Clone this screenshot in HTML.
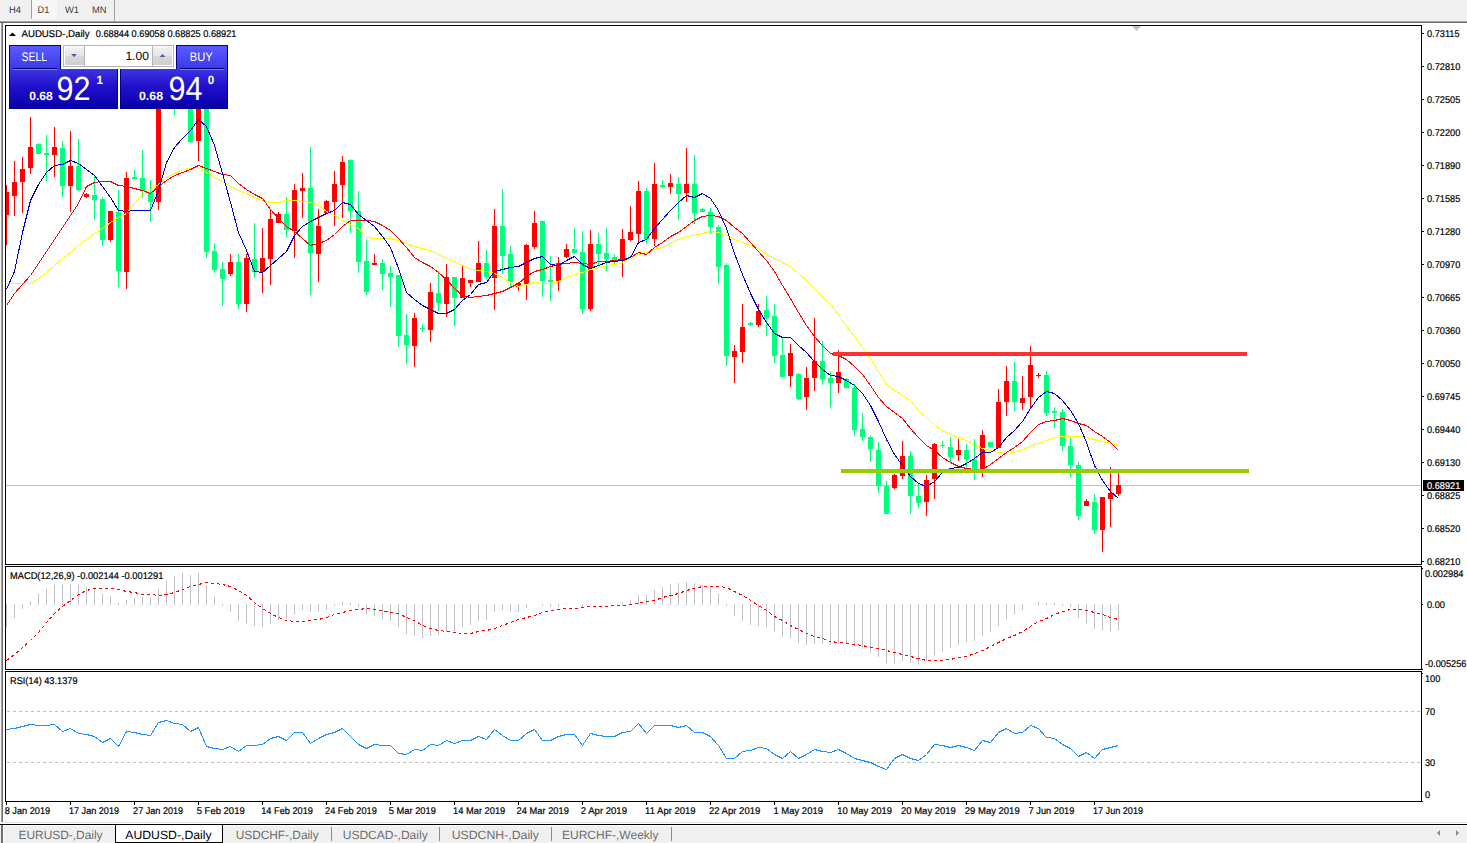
<!DOCTYPE html><html><head><meta charset="utf-8"><title>AUDUSD-,Daily</title>
<style>html,body{margin:0;padding:0;background:#fff;overflow:hidden;}svg{display:block;}text{font-family:"Liberation Sans",sans-serif;text-rendering:geometricPrecision;}</style></head><body>
<svg width="1467" height="843" viewBox="0 0 1467 843" shape-rendering="crispEdges">
<defs><linearGradient id="gTab" x1="0" y1="0" x2="0" y2="1"><stop offset="0" stop-color="#5b5bff"/><stop offset="1" stop-color="#3c38e6"/></linearGradient><linearGradient id="gLow" x1="0" y1="0" x2="0" y2="1"><stop offset="0" stop-color="#3d34e2"/><stop offset="0.45" stop-color="#2010cc"/><stop offset="1" stop-color="#0800aa"/></linearGradient><linearGradient id="gBtn" x1="0" y1="0" x2="0" y2="1"><stop offset="0" stop-color="#f2f2f2"/><stop offset="0.5" stop-color="#e4e4e4"/><stop offset="0.52" stop-color="#d8d8d8"/><stop offset="1" stop-color="#cfcfcf"/></linearGradient><clipPath id="cMain"><rect x="6" y="26" width="1415" height="538"/></clipPath><clipPath id="cMacd"><rect x="6" y="567" width="1415" height="102"/></clipPath><clipPath id="cRsi"><rect x="6" y="672" width="1415" height="129"/></clipPath></defs>
<rect x="0" y="0" width="1467" height="843" fill="#ffffff"/>
<rect x="0" y="0" width="1467" height="20" fill="#f0f0f0"/>
<rect x="0" y="20" width="1467" height="1" fill="#f4f4f4"/>
<rect x="0" y="21" width="1467" height="1" fill="#a0a0a0"/>
<rect x="0" y="22" width="1467" height="1" fill="#6e6e6e"/>
<rect x="32" y="0" width="25" height="19" fill="#f7f7f7"/>
<rect x="31" y="0" width="1" height="19" fill="#a0a0a0"/>
<rect x="114" y="0" width="1" height="21" fill="#a0a0a0"/>
<g fill="#3c3c3c" font-size="9.6" font-family="Liberation Sans, sans-serif">
<text x="9" y="13" textLength="12" lengthAdjust="spacingAndGlyphs">H4</text>
<text x="37.5" y="13" textLength="11.8" lengthAdjust="spacingAndGlyphs">D1</text>
<text x="65" y="13" textLength="14" lengthAdjust="spacingAndGlyphs">W1</text>
<text x="92" y="13" textLength="14.5" lengthAdjust="spacingAndGlyphs">MN</text>
</g>
<rect x="0" y="23" width="1" height="799" fill="#f8f8f8"/>
<rect x="1" y="23" width="1" height="799" fill="#a0a0a0"/>
<rect x="2" y="23" width="1" height="799" fill="#6e6e6e"/>
<g clip-path="url(#cMain)">
<rect x="6" y="485" width="1415" height="1" fill="#c0c0c0"/>
<rect x="6" y="185" width="1" height="60" fill="#ff0000"/>
<rect x="4" y="192" width="5" height="23" fill="#ff0000"/>
<rect x="14" y="161" width="1" height="55" fill="#ff0000"/>
<rect x="12" y="182" width="5" height="14" fill="#ff0000"/>
<rect x="22" y="157" width="1" height="56" fill="#ff0000"/>
<rect x="20" y="169" width="5" height="13" fill="#ff0000"/>
<rect x="30" y="117" width="1" height="57" fill="#ff0000"/>
<rect x="28" y="147" width="5" height="21" fill="#ff0000"/>
<rect x="38" y="143" width="1" height="11" fill="#00ff7f"/>
<rect x="36" y="144" width="5" height="10" fill="#00ff7f"/>
<rect x="46" y="135" width="1" height="46" fill="#00ff7f"/>
<rect x="44" y="153" width="5" height="2" fill="#00ff7f"/>
<rect x="54" y="127" width="1" height="50" fill="#ff0000"/>
<rect x="52" y="147" width="5" height="8" fill="#ff0000"/>
<rect x="62" y="141" width="1" height="56" fill="#00ff7f"/>
<rect x="60" y="148" width="5" height="38" fill="#00ff7f"/>
<rect x="70" y="131" width="1" height="81" fill="#ff0000"/>
<rect x="68" y="166" width="5" height="20" fill="#ff0000"/>
<rect x="78" y="139" width="1" height="52" fill="#00ff7f"/>
<rect x="76" y="166" width="5" height="24" fill="#00ff7f"/>
<rect x="86" y="193" width="1" height="5" fill="#ff0000"/>
<rect x="84" y="194" width="5" height="3" fill="#ff0000"/>
<rect x="94" y="175" width="1" height="45" fill="#00ff7f"/>
<rect x="92" y="195" width="5" height="5" fill="#00ff7f"/>
<rect x="102" y="197" width="1" height="49" fill="#00ff7f"/>
<rect x="100" y="199" width="5" height="41" fill="#00ff7f"/>
<rect x="110" y="211" width="1" height="31" fill="#ff0000"/>
<rect x="108" y="211" width="5" height="29" fill="#ff0000"/>
<rect x="118" y="190" width="1" height="97" fill="#00ff7f"/>
<rect x="116" y="212" width="5" height="59" fill="#00ff7f"/>
<rect x="126" y="172" width="1" height="117" fill="#ff0000"/>
<rect x="124" y="178" width="5" height="94" fill="#ff0000"/>
<rect x="134" y="170" width="1" height="9" fill="#00ff7f"/>
<rect x="132" y="177" width="5" height="2" fill="#00ff7f"/>
<rect x="142" y="150" width="1" height="48" fill="#00ff7f"/>
<rect x="140" y="178" width="5" height="13" fill="#00ff7f"/>
<rect x="150" y="180" width="1" height="42" fill="#00ff7f"/>
<rect x="148" y="192" width="5" height="10" fill="#00ff7f"/>
<rect x="158" y="100" width="1" height="110" fill="#ff0000"/>
<rect x="156" y="105" width="5" height="97" fill="#ff0000"/>
<rect x="166" y="85" width="1" height="22" fill="#00ff7f"/>
<rect x="164" y="92" width="5" height="12" fill="#00ff7f"/>
<rect x="174" y="90" width="1" height="25" fill="#00ff7f"/>
<rect x="172" y="100" width="5" height="8" fill="#00ff7f"/>
<rect x="182" y="75" width="1" height="30" fill="#ff0000"/>
<rect x="180" y="85" width="5" height="15" fill="#ff0000"/>
<rect x="190" y="80" width="1" height="63" fill="#00ff7f"/>
<rect x="188" y="90" width="5" height="52" fill="#00ff7f"/>
<rect x="198" y="90" width="1" height="71" fill="#ff0000"/>
<rect x="196" y="100" width="5" height="41" fill="#ff0000"/>
<rect x="206" y="95" width="1" height="163" fill="#00ff7f"/>
<rect x="204" y="100" width="5" height="152" fill="#00ff7f"/>
<rect x="214" y="243" width="1" height="30" fill="#00ff7f"/>
<rect x="212" y="251" width="5" height="19" fill="#00ff7f"/>
<rect x="222" y="262" width="1" height="44" fill="#00ff7f"/>
<rect x="220" y="269" width="5" height="10" fill="#00ff7f"/>
<rect x="230" y="254" width="1" height="22" fill="#ff0000"/>
<rect x="228" y="262" width="5" height="12" fill="#ff0000"/>
<rect x="238" y="254" width="1" height="55" fill="#00ff7f"/>
<rect x="236" y="262" width="5" height="42" fill="#00ff7f"/>
<rect x="246" y="254" width="1" height="58" fill="#ff0000"/>
<rect x="244" y="258" width="5" height="46" fill="#ff0000"/>
<rect x="254" y="223" width="1" height="55" fill="#00ff7f"/>
<rect x="252" y="259" width="5" height="13" fill="#00ff7f"/>
<rect x="262" y="228" width="1" height="65" fill="#ff0000"/>
<rect x="260" y="258" width="5" height="14" fill="#ff0000"/>
<rect x="270" y="210" width="1" height="75" fill="#ff0000"/>
<rect x="268" y="219" width="5" height="40" fill="#ff0000"/>
<rect x="278" y="212" width="1" height="11" fill="#ff0000"/>
<rect x="276" y="214" width="5" height="9" fill="#ff0000"/>
<rect x="286" y="197" width="1" height="40" fill="#00ff7f"/>
<rect x="284" y="214" width="5" height="16" fill="#00ff7f"/>
<rect x="294" y="184" width="1" height="74" fill="#ff0000"/>
<rect x="292" y="190" width="5" height="41" fill="#ff0000"/>
<rect x="302" y="173" width="1" height="45" fill="#ff0000"/>
<rect x="300" y="188" width="5" height="3" fill="#ff0000"/>
<rect x="310" y="147" width="1" height="148" fill="#00ff7f"/>
<rect x="308" y="188" width="5" height="65" fill="#00ff7f"/>
<rect x="318" y="209" width="1" height="73" fill="#ff0000"/>
<rect x="316" y="226" width="5" height="28" fill="#ff0000"/>
<rect x="326" y="200" width="1" height="14" fill="#ff0000"/>
<rect x="324" y="201" width="5" height="12" fill="#ff0000"/>
<rect x="334" y="171" width="1" height="55" fill="#ff0000"/>
<rect x="332" y="184" width="5" height="18" fill="#ff0000"/>
<rect x="342" y="156" width="1" height="62" fill="#ff0000"/>
<rect x="340" y="162" width="5" height="23" fill="#ff0000"/>
<rect x="350" y="159" width="1" height="74" fill="#00ff7f"/>
<rect x="348" y="160" width="5" height="51" fill="#00ff7f"/>
<rect x="358" y="191" width="1" height="82" fill="#00ff7f"/>
<rect x="356" y="211" width="5" height="51" fill="#00ff7f"/>
<rect x="366" y="239" width="1" height="56" fill="#00ff7f"/>
<rect x="364" y="261" width="5" height="31" fill="#00ff7f"/>
<rect x="374" y="254" width="1" height="11" fill="#ff0000"/>
<rect x="372" y="263" width="5" height="2" fill="#ff0000"/>
<rect x="382" y="259" width="1" height="31" fill="#00ff7f"/>
<rect x="380" y="263" width="5" height="11" fill="#00ff7f"/>
<rect x="390" y="266" width="1" height="41" fill="#00ff7f"/>
<rect x="388" y="273" width="5" height="4" fill="#00ff7f"/>
<rect x="398" y="275" width="1" height="72" fill="#00ff7f"/>
<rect x="396" y="275" width="5" height="61" fill="#00ff7f"/>
<rect x="406" y="314" width="1" height="50" fill="#00ff7f"/>
<rect x="404" y="335" width="5" height="10" fill="#00ff7f"/>
<rect x="414" y="313" width="1" height="54" fill="#ff0000"/>
<rect x="412" y="318" width="5" height="28" fill="#ff0000"/>
<rect x="422" y="324" width="1" height="8" fill="#00ff7f"/>
<rect x="420" y="328" width="5" height="1" fill="#00ff7f"/>
<rect x="430" y="283" width="1" height="59" fill="#ff0000"/>
<rect x="428" y="292" width="5" height="38" fill="#ff0000"/>
<rect x="438" y="271" width="1" height="40" fill="#00ff7f"/>
<rect x="436" y="293" width="5" height="10" fill="#00ff7f"/>
<rect x="446" y="264" width="1" height="53" fill="#ff0000"/>
<rect x="444" y="277" width="5" height="27" fill="#ff0000"/>
<rect x="454" y="277" width="1" height="49" fill="#00ff7f"/>
<rect x="452" y="277" width="5" height="21" fill="#00ff7f"/>
<rect x="462" y="265" width="1" height="33" fill="#ff0000"/>
<rect x="460" y="278" width="5" height="20" fill="#ff0000"/>
<rect x="470" y="280" width="1" height="7" fill="#ff0000"/>
<rect x="468" y="280" width="5" height="3" fill="#ff0000"/>
<rect x="478" y="241" width="1" height="41" fill="#ff0000"/>
<rect x="476" y="263" width="5" height="19" fill="#ff0000"/>
<rect x="486" y="250" width="1" height="29" fill="#00ff7f"/>
<rect x="484" y="263" width="5" height="14" fill="#00ff7f"/>
<rect x="494" y="209" width="1" height="101" fill="#ff0000"/>
<rect x="492" y="226" width="5" height="52" fill="#ff0000"/>
<rect x="502" y="189" width="1" height="85" fill="#00ff7f"/>
<rect x="500" y="226" width="5" height="30" fill="#00ff7f"/>
<rect x="510" y="246" width="1" height="42" fill="#00ff7f"/>
<rect x="508" y="254" width="5" height="28" fill="#00ff7f"/>
<rect x="518" y="282" width="1" height="9" fill="#ff0000"/>
<rect x="516" y="283" width="5" height="4" fill="#ff0000"/>
<rect x="526" y="244" width="1" height="56" fill="#ff0000"/>
<rect x="524" y="245" width="5" height="40" fill="#ff0000"/>
<rect x="534" y="211" width="1" height="38" fill="#ff0000"/>
<rect x="532" y="223" width="5" height="24" fill="#ff0000"/>
<rect x="542" y="221" width="1" height="76" fill="#00ff7f"/>
<rect x="540" y="221" width="5" height="60" fill="#00ff7f"/>
<rect x="550" y="256" width="1" height="45" fill="#00ff7f"/>
<rect x="548" y="280" width="5" height="2" fill="#00ff7f"/>
<rect x="558" y="257" width="1" height="34" fill="#ff0000"/>
<rect x="556" y="263" width="5" height="18" fill="#ff0000"/>
<rect x="566" y="244" width="1" height="14" fill="#ff0000"/>
<rect x="564" y="249" width="5" height="8" fill="#ff0000"/>
<rect x="574" y="228" width="1" height="26" fill="#00ff7f"/>
<rect x="572" y="249" width="5" height="4" fill="#00ff7f"/>
<rect x="582" y="231" width="1" height="83" fill="#00ff7f"/>
<rect x="580" y="252" width="5" height="57" fill="#00ff7f"/>
<rect x="590" y="230" width="1" height="81" fill="#ff0000"/>
<rect x="588" y="244" width="5" height="65" fill="#ff0000"/>
<rect x="598" y="233" width="1" height="32" fill="#00ff7f"/>
<rect x="596" y="244" width="5" height="10" fill="#00ff7f"/>
<rect x="606" y="228" width="1" height="43" fill="#00ff7f"/>
<rect x="604" y="253" width="5" height="6" fill="#00ff7f"/>
<rect x="614" y="254" width="1" height="10" fill="#00ff7f"/>
<rect x="612" y="257" width="5" height="3" fill="#00ff7f"/>
<rect x="622" y="229" width="1" height="48" fill="#ff0000"/>
<rect x="620" y="239" width="5" height="22" fill="#ff0000"/>
<rect x="630" y="206" width="1" height="35" fill="#ff0000"/>
<rect x="628" y="232" width="5" height="8" fill="#ff0000"/>
<rect x="638" y="181" width="1" height="63" fill="#ff0000"/>
<rect x="636" y="191" width="5" height="43" fill="#ff0000"/>
<rect x="646" y="188" width="1" height="56" fill="#00ff7f"/>
<rect x="644" y="191" width="5" height="48" fill="#00ff7f"/>
<rect x="654" y="163" width="1" height="83" fill="#ff0000"/>
<rect x="652" y="184" width="5" height="55" fill="#ff0000"/>
<rect x="662" y="180" width="1" height="8" fill="#00ff7f"/>
<rect x="660" y="185" width="5" height="2" fill="#00ff7f"/>
<rect x="670" y="174" width="1" height="20" fill="#ff0000"/>
<rect x="668" y="183" width="5" height="4" fill="#ff0000"/>
<rect x="678" y="177" width="1" height="43" fill="#00ff7f"/>
<rect x="676" y="184" width="5" height="10" fill="#00ff7f"/>
<rect x="686" y="148" width="1" height="54" fill="#ff0000"/>
<rect x="684" y="184" width="5" height="9" fill="#ff0000"/>
<rect x="694" y="155" width="1" height="69" fill="#00ff7f"/>
<rect x="692" y="184" width="5" height="29" fill="#00ff7f"/>
<rect x="702" y="208" width="1" height="4" fill="#00ff7f"/>
<rect x="700" y="209" width="5" height="3" fill="#00ff7f"/>
<rect x="710" y="208" width="1" height="25" fill="#00ff7f"/>
<rect x="708" y="212" width="5" height="15" fill="#00ff7f"/>
<rect x="718" y="225" width="1" height="59" fill="#00ff7f"/>
<rect x="716" y="227" width="5" height="40" fill="#00ff7f"/>
<rect x="726" y="263" width="1" height="103" fill="#00ff7f"/>
<rect x="724" y="265" width="5" height="91" fill="#00ff7f"/>
<rect x="734" y="345" width="1" height="38" fill="#ff0000"/>
<rect x="732" y="351" width="5" height="6" fill="#ff0000"/>
<rect x="742" y="304" width="1" height="59" fill="#ff0000"/>
<rect x="740" y="327" width="5" height="25" fill="#ff0000"/>
<rect x="750" y="322" width="1" height="4" fill="#00ff7f"/>
<rect x="748" y="323" width="5" height="2" fill="#00ff7f"/>
<rect x="758" y="304" width="1" height="23" fill="#ff0000"/>
<rect x="756" y="311" width="5" height="14" fill="#ff0000"/>
<rect x="766" y="296" width="1" height="40" fill="#00ff7f"/>
<rect x="764" y="310" width="5" height="8" fill="#00ff7f"/>
<rect x="774" y="304" width="1" height="59" fill="#00ff7f"/>
<rect x="772" y="316" width="5" height="40" fill="#00ff7f"/>
<rect x="782" y="338" width="1" height="39" fill="#00ff7f"/>
<rect x="780" y="355" width="5" height="22" fill="#00ff7f"/>
<rect x="790" y="344" width="1" height="43" fill="#ff0000"/>
<rect x="788" y="353" width="5" height="23" fill="#ff0000"/>
<rect x="798" y="373" width="1" height="27" fill="#00ff7f"/>
<rect x="796" y="374" width="5" height="25" fill="#00ff7f"/>
<rect x="806" y="367" width="1" height="43" fill="#ff0000"/>
<rect x="804" y="378" width="5" height="19" fill="#ff0000"/>
<rect x="814" y="318" width="1" height="73" fill="#ff0000"/>
<rect x="812" y="361" width="5" height="17" fill="#ff0000"/>
<rect x="822" y="341" width="1" height="44" fill="#00ff7f"/>
<rect x="820" y="361" width="5" height="18" fill="#00ff7f"/>
<rect x="830" y="371" width="1" height="37" fill="#00ff7f"/>
<rect x="828" y="378" width="5" height="5" fill="#00ff7f"/>
<rect x="838" y="350" width="1" height="43" fill="#ff0000"/>
<rect x="836" y="372" width="5" height="11" fill="#ff0000"/>
<rect x="846" y="378" width="1" height="10" fill="#00ff7f"/>
<rect x="844" y="379" width="5" height="9" fill="#00ff7f"/>
<rect x="854" y="384" width="1" height="52" fill="#00ff7f"/>
<rect x="852" y="388" width="5" height="42" fill="#00ff7f"/>
<rect x="862" y="413" width="1" height="28" fill="#00ff7f"/>
<rect x="860" y="429" width="5" height="8" fill="#00ff7f"/>
<rect x="870" y="435" width="1" height="27" fill="#00ff7f"/>
<rect x="868" y="437" width="5" height="12" fill="#00ff7f"/>
<rect x="878" y="442" width="1" height="51" fill="#00ff7f"/>
<rect x="876" y="450" width="5" height="36" fill="#00ff7f"/>
<rect x="886" y="481" width="1" height="33" fill="#00ff7f"/>
<rect x="884" y="486" width="5" height="28" fill="#00ff7f"/>
<rect x="894" y="474" width="1" height="15" fill="#ff0000"/>
<rect x="892" y="475" width="5" height="13" fill="#ff0000"/>
<rect x="902" y="441" width="1" height="38" fill="#ff0000"/>
<rect x="900" y="456" width="5" height="20" fill="#ff0000"/>
<rect x="910" y="451" width="1" height="63" fill="#00ff7f"/>
<rect x="908" y="456" width="5" height="40" fill="#00ff7f"/>
<rect x="918" y="484" width="1" height="24" fill="#00ff7f"/>
<rect x="916" y="496" width="5" height="7" fill="#00ff7f"/>
<rect x="926" y="475" width="1" height="41" fill="#ff0000"/>
<rect x="924" y="480" width="5" height="22" fill="#ff0000"/>
<rect x="934" y="443" width="1" height="56" fill="#ff0000"/>
<rect x="932" y="444" width="5" height="35" fill="#ff0000"/>
<rect x="942" y="441" width="1" height="7" fill="#00ff7f"/>
<rect x="940" y="445" width="5" height="1" fill="#00ff7f"/>
<rect x="950" y="437" width="1" height="25" fill="#00ff7f"/>
<rect x="948" y="447" width="5" height="10" fill="#00ff7f"/>
<rect x="958" y="439" width="1" height="22" fill="#ff0000"/>
<rect x="956" y="450" width="5" height="5" fill="#ff0000"/>
<rect x="966" y="444" width="1" height="30" fill="#00ff7f"/>
<rect x="964" y="450" width="5" height="9" fill="#00ff7f"/>
<rect x="974" y="439" width="1" height="41" fill="#00ff7f"/>
<rect x="972" y="459" width="5" height="10" fill="#00ff7f"/>
<rect x="982" y="430" width="1" height="47" fill="#ff0000"/>
<rect x="980" y="435" width="5" height="34" fill="#ff0000"/>
<rect x="990" y="442" width="1" height="6" fill="#00ff7f"/>
<rect x="988" y="442" width="5" height="5" fill="#00ff7f"/>
<rect x="998" y="389" width="1" height="59" fill="#ff0000"/>
<rect x="996" y="402" width="5" height="46" fill="#ff0000"/>
<rect x="1006" y="366" width="1" height="50" fill="#ff0000"/>
<rect x="1004" y="381" width="5" height="21" fill="#ff0000"/>
<rect x="1014" y="362" width="1" height="49" fill="#00ff7f"/>
<rect x="1012" y="381" width="5" height="21" fill="#00ff7f"/>
<rect x="1022" y="376" width="1" height="34" fill="#ff0000"/>
<rect x="1020" y="398" width="5" height="5" fill="#ff0000"/>
<rect x="1030" y="346" width="1" height="62" fill="#ff0000"/>
<rect x="1028" y="365" width="5" height="32" fill="#ff0000"/>
<rect x="1038" y="373" width="1" height="5" fill="#ff0000"/>
<rect x="1036" y="375" width="5" height="1" fill="#ff0000"/>
<rect x="1046" y="371" width="1" height="45" fill="#00ff7f"/>
<rect x="1044" y="375" width="5" height="38" fill="#00ff7f"/>
<rect x="1054" y="407" width="1" height="21" fill="#00ff7f"/>
<rect x="1052" y="411" width="5" height="2" fill="#00ff7f"/>
<rect x="1062" y="409" width="1" height="42" fill="#00ff7f"/>
<rect x="1060" y="412" width="5" height="34" fill="#00ff7f"/>
<rect x="1070" y="438" width="1" height="39" fill="#00ff7f"/>
<rect x="1068" y="446" width="5" height="19" fill="#00ff7f"/>
<rect x="1078" y="462" width="1" height="58" fill="#00ff7f"/>
<rect x="1076" y="465" width="5" height="51" fill="#00ff7f"/>
<rect x="1086" y="499" width="1" height="7" fill="#ff0000"/>
<rect x="1084" y="501" width="5" height="5" fill="#ff0000"/>
<rect x="1094" y="494" width="1" height="40" fill="#00ff7f"/>
<rect x="1092" y="502" width="5" height="28" fill="#00ff7f"/>
<rect x="1102" y="497" width="1" height="55" fill="#ff0000"/>
<rect x="1100" y="497" width="5" height="33" fill="#ff0000"/>
<rect x="1110" y="467" width="1" height="60" fill="#ff0000"/>
<rect x="1108" y="493" width="5" height="6" fill="#ff0000"/>
<rect x="1118" y="470" width="1" height="26" fill="#ff0000"/>
<rect x="1116" y="485" width="5" height="9" fill="#ff0000"/>
<polyline fill="none" stroke="#ffff00" stroke-width="1" points="6.5,283.5 14.5,283.5 22.5,283.5 30.5,283.5 38.5,278.5 46.5,272.5 54.5,265.5 62.5,258.5 70.5,252.5 78.5,245.5 86.5,239.5 94.5,233.5 102.5,228.5 110.5,222.5 118.5,217.5 126.5,213.5 134.5,203.5 142.5,194.5 150.5,189.5 158.5,184.5 166.5,177.5 174.5,173.5 182.5,169.5 190.5,168.5 198.5,167.5 206.5,172.5 214.5,177.5 222.5,181.5 230.5,186.5 238.5,190.5 246.5,193.5 254.5,197.5 262.5,200.5 270.5,202.5 278.5,202.5 286.5,200.5 294.5,200.5 302.5,201.5 310.5,202.5 318.5,205.5 326.5,211.5 334.5,215.5 342.5,220.5 350.5,224.5 358.5,228.5 366.5,237.5 374.5,238.5 382.5,238.5 390.5,238.5 398.5,240.5 406.5,243.5 414.5,246.5 422.5,248.5 430.5,250.5 438.5,254.5 446.5,258.5 454.5,261.5 462.5,265.5 470.5,269.5 478.5,270.5 486.5,271.5 494.5,273.5 502.5,277.5 510.5,282.5 518.5,286.5 526.5,284.5 534.5,282.5 542.5,283.5 550.5,283.5 558.5,281.5 566.5,277.5 574.5,274.5 582.5,272.5 590.5,269.5 598.5,267.5 606.5,265.5 614.5,264.5 622.5,262.5 630.5,258.5 638.5,254.5 646.5,252.5 654.5,249.5 662.5,247.5 670.5,243.5 678.5,239.5 686.5,236.5 694.5,235.5 702.5,233.5 710.5,231.5 718.5,232.5 726.5,235.5 734.5,239.5 742.5,242.5 750.5,245.5 758.5,248.5 766.5,254.5 774.5,258.5 782.5,262.5 790.5,266.5 798.5,273.5 806.5,280.5 814.5,288.5 822.5,296.5 830.5,304.5 838.5,314.5 846.5,326.5 854.5,336.5 862.5,347.5 870.5,358.5 878.5,371.5 886.5,384.5 894.5,390.5 902.5,395.5 910.5,400.5 918.5,410.5 926.5,417.5 934.5,425.5 942.5,430.5 950.5,434.5 958.5,437.5 966.5,440.5 974.5,445.5 982.5,448.5 990.5,450.5 998.5,452.5 1006.5,453.5 1014.5,452.5 1022.5,449.5 1030.5,446.5 1038.5,443.5 1046.5,440.5 1054.5,437.5 1062.5,436.5 1070.5,436.5 1078.5,436.5 1086.5,437.5 1094.5,439.5 1102.5,441.5 1110.5,443.5 1118.5,445.5"/>
<polyline fill="none" stroke="#ff0000" stroke-width="1" points="6.5,305.5 14.5,293.5 22.5,284.5 30.5,275.5 38.5,263.5 46.5,251.5 54.5,239.5 62.5,227.5 70.5,215.5 78.5,203.5 86.5,186.5 94.5,182.5 102.5,181.5 110.5,181.5 118.5,185.5 126.5,186.5 134.5,188.5 142.5,190.5 150.5,193.5 158.5,186.5 166.5,180.5 174.5,175.5 182.5,172.5 190.5,169.5 198.5,165.5 206.5,168.5 214.5,171.5 222.5,174.5 230.5,175.5 238.5,183.5 246.5,189.5 254.5,194.5 262.5,198.5 270.5,209.5 278.5,218.5 286.5,226.5 294.5,231.5 302.5,238.5 310.5,245.5 318.5,243.5 326.5,240.5 334.5,234.5 342.5,226.5 350.5,220.5 358.5,220.5 366.5,220.5 374.5,221.5 382.5,225.5 390.5,230.5 398.5,238.5 406.5,247.5 414.5,257.5 422.5,262.5 430.5,266.5 438.5,272.5 446.5,279.5 454.5,288.5 462.5,295.5 470.5,297.5 478.5,296.5 486.5,295.5 494.5,293.5 502.5,291.5 510.5,287.5 518.5,283.5 526.5,276.5 534.5,271.5 542.5,269.5 550.5,266.5 558.5,264.5 566.5,263.5 574.5,262.5 582.5,263.5 590.5,264.5 598.5,261.5 606.5,261.5 614.5,260.5 622.5,259.5 630.5,257.5 638.5,252.5 646.5,254.5 654.5,247.5 662.5,242.5 670.5,236.5 678.5,232.5 686.5,226.5 694.5,220.5 702.5,216.5 710.5,215.5 718.5,216.5 726.5,220.5 734.5,227.5 742.5,233.5 750.5,242.5 758.5,251.5 766.5,260.5 774.5,271.5 782.5,285.5 790.5,298.5 798.5,312.5 806.5,325.5 814.5,336.5 822.5,345.5 830.5,353.5 838.5,355.5 846.5,359.5 854.5,366.5 862.5,374.5 870.5,385.5 878.5,397.5 886.5,406.5 894.5,412.5 902.5,418.5 910.5,428.5 918.5,437.5 926.5,445.5 934.5,450.5 942.5,457.5 950.5,462.5 958.5,466.5 966.5,468.5 974.5,469.5 982.5,469.5 990.5,464.5 998.5,458.5 1006.5,452.5 1014.5,447.5 1022.5,441.5 1030.5,432.5 1038.5,424.5 1046.5,421.5 1054.5,420.5 1062.5,418.5 1070.5,420.5 1078.5,423.5 1086.5,425.5 1094.5,431.5 1102.5,436.5 1110.5,442.5 1118.5,450.5"/>
<polyline fill="none" stroke="#0000cd" stroke-width="1" points="6.5,289.5 14.5,271.5 22.5,232.5 30.5,200.5 38.5,184.5 46.5,172.5 54.5,165.5 62.5,164.5 70.5,160.5 78.5,163.5 86.5,169.5 94.5,175.5 102.5,186.5 110.5,197.5 118.5,210.5 126.5,211.5 134.5,210.5 142.5,210.5 150.5,210.5 158.5,190.5 166.5,162.5 174.5,147.5 182.5,138.5 190.5,130.5 198.5,119.5 206.5,126.5 214.5,145.5 222.5,173.5 230.5,202.5 238.5,232.5 246.5,250.5 254.5,271.5 262.5,272.5 270.5,265.5 278.5,258.5 286.5,251.5 294.5,235.5 302.5,226.5 310.5,221.5 318.5,217.5 326.5,213.5 334.5,210.5 342.5,202.5 350.5,204.5 358.5,214.5 366.5,220.5 374.5,226.5 382.5,236.5 390.5,247.5 398.5,268.5 406.5,292.5 414.5,299.5 422.5,305.5 430.5,309.5 438.5,313.5 446.5,313.5 454.5,309.5 462.5,300.5 470.5,294.5 478.5,284.5 486.5,282.5 494.5,271.5 502.5,269.5 510.5,267.5 518.5,266.5 526.5,262.5 534.5,258.5 542.5,256.5 550.5,264.5 558.5,265.5 566.5,260.5 574.5,256.5 582.5,264.5 590.5,268.5 598.5,265.5 606.5,262.5 614.5,261.5 622.5,260.5 630.5,257.5 638.5,242.5 646.5,239.5 654.5,228.5 662.5,219.5 670.5,210.5 678.5,202.5 686.5,195.5 694.5,197.5 702.5,193.5 710.5,198.5 718.5,210.5 726.5,228.5 734.5,253.5 742.5,274.5 750.5,293.5 758.5,309.5 766.5,322.5 774.5,333.5 782.5,337.5 790.5,337.5 798.5,345.5 806.5,352.5 814.5,361.5 822.5,369.5 830.5,375.5 838.5,376.5 846.5,380.5 854.5,385.5 862.5,393.5 870.5,405.5 878.5,421.5 886.5,439.5 894.5,454.5 902.5,465.5 910.5,476.5 918.5,483.5 926.5,486.5 934.5,481.5 942.5,472.5 950.5,468.5 958.5,467.5 966.5,463.5 974.5,458.5 982.5,452.5 990.5,452.5 998.5,447.5 1006.5,437.5 1014.5,430.5 1022.5,421.5 1030.5,408.5 1038.5,397.5 1046.5,391.5 1054.5,393.5 1062.5,400.5 1070.5,410.5 1078.5,423.5 1086.5,442.5 1094.5,465.5 1102.5,480.5 1110.5,491.5 1118.5,498.5"/>
<rect x="833" y="352" width="414" height="4" fill="#ff3232"/>
<rect x="841" y="469" width="408" height="4" fill="#99cc00"/>
<polygon points="1132,26 1141,26 1136.5,31" fill="#c0c0c0" shape-rendering="auto"/>
</g>
<rect x="5.5" y="25.5" width="1416" height="539" fill="none" stroke="#000"/>
<rect x="5.5" y="566.5" width="1416" height="103" fill="none" stroke="#000"/>
<rect x="5.5" y="671.5" width="1416" height="130" fill="none" stroke="#000"/>
<g fill="#000" font-size="9.5" font-family="Liberation Sans, sans-serif">
<rect x="1422" y="33" width="2" height="1" fill="#000"/>
<text x="1427" y="37" font-size="9.8" fill="#000" textLength="32.57" lengthAdjust="spacingAndGlyphs" stroke="#000" stroke-width="0.2">0.73115</text>
<rect x="1422" y="66" width="2" height="1" fill="#000"/>
<text x="1427" y="70" font-size="9.8" fill="#000" textLength="33.25" lengthAdjust="spacingAndGlyphs" stroke="#000" stroke-width="0.2">0.72810</text>
<rect x="1422" y="99" width="2" height="1" fill="#000"/>
<text x="1427" y="103" font-size="9.8" fill="#000" textLength="33.25" lengthAdjust="spacingAndGlyphs" stroke="#000" stroke-width="0.2">0.72505</text>
<rect x="1422" y="132" width="2" height="1" fill="#000"/>
<text x="1427" y="136" font-size="9.8" fill="#000" textLength="33.25" lengthAdjust="spacingAndGlyphs" stroke="#000" stroke-width="0.2">0.72200</text>
<rect x="1422" y="165" width="2" height="1" fill="#000"/>
<text x="1427" y="169" font-size="9.8" fill="#000" textLength="33.25" lengthAdjust="spacingAndGlyphs" stroke="#000" stroke-width="0.2">0.71890</text>
<rect x="1422" y="198" width="2" height="1" fill="#000"/>
<text x="1427" y="202" font-size="9.8" fill="#000" textLength="33.25" lengthAdjust="spacingAndGlyphs" stroke="#000" stroke-width="0.2">0.71585</text>
<rect x="1422" y="231" width="2" height="1" fill="#000"/>
<text x="1427" y="235" font-size="9.8" fill="#000" textLength="33.25" lengthAdjust="spacingAndGlyphs" stroke="#000" stroke-width="0.2">0.71280</text>
<rect x="1422" y="264" width="2" height="1" fill="#000"/>
<text x="1427" y="268" font-size="9.8" fill="#000" textLength="33.25" lengthAdjust="spacingAndGlyphs" stroke="#000" stroke-width="0.2">0.70970</text>
<rect x="1422" y="297" width="2" height="1" fill="#000"/>
<text x="1427" y="301" font-size="9.8" fill="#000" textLength="33.25" lengthAdjust="spacingAndGlyphs" stroke="#000" stroke-width="0.2">0.70665</text>
<rect x="1422" y="330" width="2" height="1" fill="#000"/>
<text x="1427" y="334" font-size="9.8" fill="#000" textLength="33.25" lengthAdjust="spacingAndGlyphs" stroke="#000" stroke-width="0.2">0.70360</text>
<rect x="1422" y="363" width="2" height="1" fill="#000"/>
<text x="1427" y="367" font-size="9.8" fill="#000" textLength="33.25" lengthAdjust="spacingAndGlyphs" stroke="#000" stroke-width="0.2">0.70050</text>
<rect x="1422" y="396" width="2" height="1" fill="#000"/>
<text x="1427" y="400" font-size="9.8" fill="#000" textLength="33.25" lengthAdjust="spacingAndGlyphs" stroke="#000" stroke-width="0.2">0.69745</text>
<rect x="1422" y="429" width="2" height="1" fill="#000"/>
<text x="1427" y="433" font-size="9.8" fill="#000" textLength="33.25" lengthAdjust="spacingAndGlyphs" stroke="#000" stroke-width="0.2">0.69440</text>
<rect x="1422" y="462" width="2" height="1" fill="#000"/>
<text x="1427" y="466" font-size="9.8" fill="#000" textLength="33.25" lengthAdjust="spacingAndGlyphs" stroke="#000" stroke-width="0.2">0.69130</text>
<rect x="1422" y="495" width="2" height="1" fill="#000"/>
<text x="1427" y="499" font-size="9.8" fill="#000" textLength="33.25" lengthAdjust="spacingAndGlyphs" stroke="#000" stroke-width="0.2">0.68825</text>
<rect x="1422" y="528" width="2" height="1" fill="#000"/>
<text x="1427" y="532" font-size="9.8" fill="#000" textLength="33.25" lengthAdjust="spacingAndGlyphs" stroke="#000" stroke-width="0.2">0.68520</text>
<rect x="1422" y="561" width="2" height="1" fill="#000"/>
<text x="1427" y="565" font-size="9.8" fill="#000" textLength="33.25" lengthAdjust="spacingAndGlyphs" stroke="#000" stroke-width="0.2">0.68210</text>
</g>
<rect x="1423" y="480" width="41" height="11" fill="#000"/>
<text x="1427" y="489" font-size="9.8" fill="#fff" textLength="33.25" lengthAdjust="spacingAndGlyphs" stroke="#fff" stroke-width="0.2">0.68921</text>
<polygon points="9,36 16,36 12.5,32.5" fill="#000" shape-rendering="auto"/>
<text x="21.5" y="37" font-size="9.8" fill="#000" textLength="68.02" lengthAdjust="spacingAndGlyphs" stroke="#000" stroke-width="0.2">AUDUSD-,Daily</text>
<text x="95.8" y="37" font-size="9.8" fill="#000" textLength="140.68" lengthAdjust="spacingAndGlyphs" stroke="#000" stroke-width="0.2">0.68844 0.69058 0.68825 0.68921</text>
<rect x="9" y="45" width="52" height="24" fill="#00008c"/>
<rect x="10" y="46" width="50" height="23" fill="url(#gTab)"/>
<rect x="9" y="69" width="109" height="40" fill="#00008c"/>
<rect x="10" y="69" width="107" height="39" fill="url(#gLow)"/>
<rect x="13" y="68" width="44" height="1" fill="#00006e"/>
<rect x="13" y="69" width="44" height="1" fill="#7878ff"/>
<rect x="176" y="45" width="52" height="24" fill="#00008c"/>
<rect x="177" y="46" width="50" height="23" fill="url(#gTab)"/>
<rect x="120" y="69" width="108" height="40" fill="#00008c"/>
<rect x="121" y="69" width="106" height="39" fill="url(#gLow)"/>
<rect x="180" y="68" width="44" height="1" fill="#00006e"/>
<rect x="180" y="69" width="44" height="1" fill="#7878ff"/>
<rect x="63.5" y="45.5" width="110" height="21" fill="#fff" stroke="#b4b4b4"/>
<rect x="65" y="47" width="19" height="18" fill="url(#gBtn)" stroke="none"/>
<rect x="84" y="46" width="1" height="20" fill="#b4b4b4"/>
<rect x="153" y="47" width="19" height="18" fill="url(#gBtn)"/>
<rect x="152" y="46" width="1" height="20" fill="#b4b4b4"/>
<polygon points="71,54 77,54 74,57" fill="#4a5fb0" shape-rendering="auto"/>
<polygon points="159.5,57 165.5,57 162.5,54" fill="#4a5fb0" shape-rendering="auto"/>
<text x="125.4" y="60" font-size="12" fill="#000" font-family="Liberation Sans, sans-serif" textLength="23.5" lengthAdjust="spacingAndGlyphs">1.00</text>
<g fill="#fff" font-family="Liberation Sans, sans-serif">
<text x="21.6" y="61" font-size="12.5" textLength="25.4" lengthAdjust="spacingAndGlyphs">SELL</text>
<text x="189.8" y="61" font-size="12.5" textLength="23" lengthAdjust="spacingAndGlyphs">BUY</text>
<text x="29.3" y="100" font-size="12" font-weight="bold" textLength="23.5" lengthAdjust="spacingAndGlyphs">0.68</text>
<text x="56.5" y="100" font-size="33.5" textLength="34" lengthAdjust="spacingAndGlyphs">92</text>
<text x="96.5" y="84" font-size="12" font-weight="bold" textLength="6.5" lengthAdjust="spacingAndGlyphs">1</text>
<text x="139" y="100" font-size="12" font-weight="bold" textLength="24" lengthAdjust="spacingAndGlyphs">0.68</text>
<text x="168.5" y="100" font-size="33.5" textLength="34" lengthAdjust="spacingAndGlyphs">94</text>
<text x="207.8" y="84" font-size="12" font-weight="bold" textLength="6.5" lengthAdjust="spacingAndGlyphs">0</text>
</g>
<g clip-path="url(#cMacd)">
<rect x="6" y="604" width="1" height="23" fill="#c0c0c0"/>
<rect x="14" y="604" width="1" height="14" fill="#c0c0c0"/>
<rect x="22" y="604" width="1" height="5" fill="#c0c0c0"/>
<rect x="30" y="601" width="1" height="4" fill="#c0c0c0"/>
<rect x="38" y="594" width="1" height="11" fill="#c0c0c0"/>
<rect x="46" y="589" width="1" height="16" fill="#c0c0c0"/>
<rect x="54" y="585" width="1" height="20" fill="#c0c0c0"/>
<rect x="62" y="585" width="1" height="20" fill="#c0c0c0"/>
<rect x="70" y="584" width="1" height="21" fill="#c0c0c0"/>
<rect x="78" y="585" width="1" height="20" fill="#c0c0c0"/>
<rect x="86" y="587" width="1" height="18" fill="#c0c0c0"/>
<rect x="94" y="589" width="1" height="16" fill="#c0c0c0"/>
<rect x="102" y="594" width="1" height="11" fill="#c0c0c0"/>
<rect x="110" y="596" width="1" height="9" fill="#c0c0c0"/>
<rect x="118" y="603" width="1" height="2" fill="#c0c0c0"/>
<rect x="126" y="600" width="1" height="5" fill="#c0c0c0"/>
<rect x="134" y="598" width="1" height="7" fill="#c0c0c0"/>
<rect x="142" y="597" width="1" height="8" fill="#c0c0c0"/>
<rect x="150" y="598" width="1" height="7" fill="#c0c0c0"/>
<rect x="158" y="589" width="1" height="16" fill="#c0c0c0"/>
<rect x="166" y="580" width="1" height="25" fill="#c0c0c0"/>
<rect x="174" y="576" width="1" height="29" fill="#c0c0c0"/>
<rect x="182" y="573" width="1" height="32" fill="#c0c0c0"/>
<rect x="190" y="575" width="1" height="30" fill="#c0c0c0"/>
<rect x="198" y="573" width="1" height="32" fill="#c0c0c0"/>
<rect x="206" y="585" width="1" height="20" fill="#c0c0c0"/>
<rect x="214" y="597" width="1" height="8" fill="#c0c0c0"/>
<rect x="222" y="604" width="1" height="2" fill="#c0c0c0"/>
<rect x="230" y="604" width="1" height="8" fill="#c0c0c0"/>
<rect x="238" y="604" width="1" height="17" fill="#c0c0c0"/>
<rect x="246" y="604" width="1" height="19" fill="#c0c0c0"/>
<rect x="254" y="604" width="1" height="22" fill="#c0c0c0"/>
<rect x="262" y="604" width="1" height="23" fill="#c0c0c0"/>
<rect x="270" y="604" width="1" height="20" fill="#c0c0c0"/>
<rect x="278" y="604" width="1" height="16" fill="#c0c0c0"/>
<rect x="286" y="604" width="1" height="15" fill="#c0c0c0"/>
<rect x="294" y="604" width="1" height="10" fill="#c0c0c0"/>
<rect x="302" y="604" width="1" height="6" fill="#c0c0c0"/>
<rect x="310" y="604" width="1" height="8" fill="#c0c0c0"/>
<rect x="318" y="604" width="1" height="8" fill="#c0c0c0"/>
<rect x="326" y="604" width="1" height="6" fill="#c0c0c0"/>
<rect x="334" y="604" width="1" height="2" fill="#c0c0c0"/>
<rect x="342" y="602" width="1" height="3" fill="#c0c0c0"/>
<rect x="350" y="603" width="1" height="2" fill="#c0c0c0"/>
<rect x="358" y="604" width="1" height="3" fill="#c0c0c0"/>
<rect x="366" y="604" width="1" height="10" fill="#c0c0c0"/>
<rect x="374" y="604" width="1" height="12" fill="#c0c0c0"/>
<rect x="382" y="604" width="1" height="15" fill="#c0c0c0"/>
<rect x="390" y="604" width="1" height="17" fill="#c0c0c0"/>
<rect x="398" y="604" width="1" height="23" fill="#c0c0c0"/>
<rect x="406" y="604" width="1" height="30" fill="#c0c0c0"/>
<rect x="414" y="604" width="1" height="32" fill="#c0c0c0"/>
<rect x="422" y="604" width="1" height="34" fill="#c0c0c0"/>
<rect x="430" y="604" width="1" height="32" fill="#c0c0c0"/>
<rect x="438" y="604" width="1" height="31" fill="#c0c0c0"/>
<rect x="446" y="604" width="1" height="28" fill="#c0c0c0"/>
<rect x="454" y="604" width="1" height="27" fill="#c0c0c0"/>
<rect x="462" y="604" width="1" height="23" fill="#c0c0c0"/>
<rect x="470" y="604" width="1" height="21" fill="#c0c0c0"/>
<rect x="478" y="604" width="1" height="17" fill="#c0c0c0"/>
<rect x="486" y="604" width="1" height="16" fill="#c0c0c0"/>
<rect x="494" y="604" width="1" height="8" fill="#c0c0c0"/>
<rect x="502" y="604" width="1" height="6" fill="#c0c0c0"/>
<rect x="510" y="604" width="1" height="8" fill="#c0c0c0"/>
<rect x="518" y="604" width="1" height="8" fill="#c0c0c0"/>
<rect x="526" y="604" width="1" height="4" fill="#c0c0c0"/>
<rect x="542" y="604" width="1" height="2" fill="#c0c0c0"/>
<rect x="550" y="604" width="1" height="3" fill="#c0c0c0"/>
<rect x="558" y="604" width="1" height="3" fill="#c0c0c0"/>
<rect x="566" y="604" width="1" height="1" fill="#c0c0c0"/>
<rect x="582" y="604" width="1" height="4" fill="#c0c0c0"/>
<rect x="590" y="604" width="1" height="1" fill="#c0c0c0"/>
<rect x="622" y="602" width="1" height="3" fill="#c0c0c0"/>
<rect x="630" y="600" width="1" height="5" fill="#c0c0c0"/>
<rect x="638" y="595" width="1" height="10" fill="#c0c0c0"/>
<rect x="646" y="595" width="1" height="10" fill="#c0c0c0"/>
<rect x="654" y="590" width="1" height="15" fill="#c0c0c0"/>
<rect x="662" y="587" width="1" height="18" fill="#c0c0c0"/>
<rect x="670" y="584" width="1" height="21" fill="#c0c0c0"/>
<rect x="678" y="583" width="1" height="22" fill="#c0c0c0"/>
<rect x="686" y="582" width="1" height="23" fill="#c0c0c0"/>
<rect x="694" y="584" width="1" height="21" fill="#c0c0c0"/>
<rect x="702" y="585" width="1" height="20" fill="#c0c0c0"/>
<rect x="710" y="588" width="1" height="17" fill="#c0c0c0"/>
<rect x="718" y="594" width="1" height="11" fill="#c0c0c0"/>
<rect x="726" y="604" width="1" height="2" fill="#c0c0c0"/>
<rect x="734" y="604" width="1" height="12" fill="#c0c0c0"/>
<rect x="742" y="604" width="1" height="17" fill="#c0c0c0"/>
<rect x="750" y="604" width="1" height="21" fill="#c0c0c0"/>
<rect x="758" y="604" width="1" height="22" fill="#c0c0c0"/>
<rect x="766" y="604" width="1" height="23" fill="#c0c0c0"/>
<rect x="774" y="604" width="1" height="27" fill="#c0c0c0"/>
<rect x="782" y="604" width="1" height="33" fill="#c0c0c0"/>
<rect x="790" y="604" width="1" height="34" fill="#c0c0c0"/>
<rect x="798" y="604" width="1" height="39" fill="#c0c0c0"/>
<rect x="806" y="604" width="1" height="41" fill="#c0c0c0"/>
<rect x="814" y="604" width="1" height="40" fill="#c0c0c0"/>
<rect x="822" y="604" width="1" height="40" fill="#c0c0c0"/>
<rect x="830" y="604" width="1" height="41" fill="#c0c0c0"/>
<rect x="838" y="604" width="1" height="40" fill="#c0c0c0"/>
<rect x="846" y="604" width="1" height="40" fill="#c0c0c0"/>
<rect x="854" y="604" width="1" height="42" fill="#c0c0c0"/>
<rect x="862" y="604" width="1" height="45" fill="#c0c0c0"/>
<rect x="870" y="604" width="1" height="49" fill="#c0c0c0"/>
<rect x="878" y="604" width="1" height="53" fill="#c0c0c0"/>
<rect x="886" y="604" width="1" height="59" fill="#c0c0c0"/>
<rect x="894" y="604" width="1" height="60" fill="#c0c0c0"/>
<rect x="902" y="604" width="1" height="57" fill="#c0c0c0"/>
<rect x="910" y="604" width="1" height="59" fill="#c0c0c0"/>
<rect x="918" y="604" width="1" height="60" fill="#c0c0c0"/>
<rect x="926" y="604" width="1" height="57" fill="#c0c0c0"/>
<rect x="934" y="604" width="1" height="51" fill="#c0c0c0"/>
<rect x="942" y="604" width="1" height="48" fill="#c0c0c0"/>
<rect x="950" y="604" width="1" height="44" fill="#c0c0c0"/>
<rect x="958" y="604" width="1" height="41" fill="#c0c0c0"/>
<rect x="966" y="604" width="1" height="38" fill="#c0c0c0"/>
<rect x="974" y="604" width="1" height="37" fill="#c0c0c0"/>
<rect x="982" y="604" width="1" height="32" fill="#c0c0c0"/>
<rect x="990" y="604" width="1" height="28" fill="#c0c0c0"/>
<rect x="998" y="604" width="1" height="22" fill="#c0c0c0"/>
<rect x="1006" y="604" width="1" height="15" fill="#c0c0c0"/>
<rect x="1014" y="604" width="1" height="10" fill="#c0c0c0"/>
<rect x="1022" y="604" width="1" height="6" fill="#c0c0c0"/>
<rect x="1038" y="602" width="1" height="3" fill="#c0c0c0"/>
<rect x="1046" y="603" width="1" height="2" fill="#c0c0c0"/>
<rect x="1054" y="603" width="1" height="2" fill="#c0c0c0"/>
<rect x="1062" y="604" width="1" height="2" fill="#c0c0c0"/>
<rect x="1070" y="604" width="1" height="3" fill="#c0c0c0"/>
<rect x="1078" y="604" width="1" height="14" fill="#c0c0c0"/>
<rect x="1086" y="604" width="1" height="19" fill="#c0c0c0"/>
<rect x="1094" y="604" width="1" height="25" fill="#c0c0c0"/>
<rect x="1102" y="604" width="1" height="26" fill="#c0c0c0"/>
<rect x="1110" y="604" width="1" height="27" fill="#c0c0c0"/>
<rect x="1118" y="604" width="1" height="26" fill="#c0c0c0"/>
<polyline fill="none" stroke="#ff0000" stroke-width="1" stroke-dasharray="3,3" points="6.5,660.5 14.5,654.5 22.5,647.5 30.5,640.5 38.5,632.5 46.5,622.5 54.5,613.5 62.5,606.5 70.5,600.5 78.5,594.5 86.5,590.5 94.5,588.5 102.5,588.5 110.5,588.5 118.5,589.5 126.5,591.5 134.5,592.5 142.5,594.5 150.5,594.5 158.5,595.5 166.5,594.5 174.5,592.5 182.5,589.5 190.5,586.5 198.5,584.5 206.5,582.5 214.5,583.5 222.5,584.5 230.5,586.5 238.5,590.5 246.5,595.5 254.5,602.5 262.5,608.5 270.5,613.5 278.5,617.5 286.5,620.5 294.5,621.5 302.5,621.5 310.5,620.5 318.5,619.5 326.5,617.5 334.5,614.5 342.5,612.5 350.5,610.5 358.5,609.5 366.5,608.5 374.5,609.5 382.5,610.5 390.5,612.5 398.5,613.5 406.5,617.5 414.5,620.5 422.5,625.5 430.5,628.5 438.5,630.5 446.5,631.5 454.5,632.5 462.5,633.5 470.5,633.5 478.5,631.5 486.5,630.5 494.5,628.5 502.5,625.5 510.5,622.5 518.5,619.5 526.5,617.5 534.5,615.5 542.5,612.5 550.5,610.5 558.5,609.5 566.5,608.5 574.5,608.5 582.5,607.5 590.5,606.5 598.5,606.5 606.5,606.5 614.5,605.5 622.5,605.5 630.5,604.5 638.5,603.5 646.5,601.5 654.5,600.5 662.5,597.5 670.5,595.5 678.5,593.5 686.5,590.5 694.5,588.5 702.5,586.5 710.5,586.5 718.5,586.5 726.5,587.5 734.5,591.5 742.5,595.5 750.5,600.5 758.5,605.5 766.5,610.5 774.5,616.5 782.5,620.5 790.5,625.5 798.5,629.5 806.5,633.5 814.5,636.5 822.5,638.5 830.5,641.5 838.5,642.5 846.5,643.5 854.5,644.5 862.5,645.5 870.5,647.5 878.5,648.5 886.5,650.5 894.5,652.5 902.5,654.5 910.5,656.5 918.5,658.5 926.5,660.5 934.5,660.5 942.5,660.5 950.5,659.5 958.5,657.5 966.5,656.5 974.5,653.5 982.5,650.5 990.5,646.5 998.5,642.5 1006.5,638.5 1014.5,635.5 1022.5,631.5 1030.5,626.5 1038.5,621.5 1046.5,618.5 1054.5,614.5 1062.5,611.5 1070.5,609.5 1078.5,609.5 1086.5,610.5 1094.5,612.5 1102.5,614.5 1110.5,617.5 1118.5,619.5"/>
</g>
<text x="10" y="579" font-size="9.8" fill="#000" textLength="153.37" lengthAdjust="spacingAndGlyphs" stroke="#000" stroke-width="0.2">MACD(12,26,9) -0.002144 -0.001291</text>
<g fill="#000" font-size="9.5" font-family="Liberation Sans, sans-serif">
<rect x="1422" y="568" width="1" height="1"/>
<rect x="1422" y="604" width="1" height="1"/>
<rect x="1422" y="669" width="1" height="1"/>
<text x="1425" y="577" font-size="9.8" fill="#000" textLength="38.37" lengthAdjust="spacingAndGlyphs" stroke="#000" stroke-width="0.2">0.002984</text>
<text x="1427" y="608" font-size="9.8" fill="#000" textLength="17.90" lengthAdjust="spacingAndGlyphs" stroke="#000" stroke-width="0.2">0.00</text>
<text x="1425" y="667" font-size="9.8" fill="#000" textLength="41.43" lengthAdjust="spacingAndGlyphs" stroke="#000" stroke-width="0.2">-0.005256</text>
</g>
<g clip-path="url(#cRsi)">
<line x1="7" y1="711.5" x2="1421" y2="711.5" stroke="#c0c0c0" stroke-dasharray="3,3"/>
<line x1="7" y1="762.5" x2="1421" y2="762.5" stroke="#c0c0c0" stroke-dasharray="3,3"/>
<polyline fill="none" stroke="#1e90ff" stroke-width="1" points="6.5,729.5 14.5,728.5 22.5,726.5 30.5,724.5 38.5,725.5 46.5,725.5 54.5,724.5 62.5,731.5 70.5,728.5 78.5,733.5 86.5,734.5 94.5,736.5 102.5,742.5 110.5,738.5 118.5,746.5 126.5,731.5 134.5,732.5 142.5,734.5 150.5,735.5 158.5,722.5 166.5,720.5 174.5,723.5 182.5,724.5 190.5,731.5 198.5,727.5 206.5,746.5 214.5,748.5 222.5,749.5 230.5,746.5 238.5,751.5 246.5,745.5 254.5,745.5 262.5,744.5 270.5,738.5 278.5,736.5 286.5,740.5 294.5,732.5 302.5,732.5 310.5,743.5 318.5,738.5 326.5,734.5 334.5,732.5 342.5,728.5 350.5,736.5 358.5,744.5 366.5,748.5 374.5,744.5 382.5,745.5 390.5,745.5 398.5,753.5 406.5,754.5 414.5,749.5 422.5,750.5 430.5,744.5 438.5,745.5 446.5,740.5 454.5,743.5 462.5,740.5 470.5,740.5 478.5,736.5 486.5,739.5 494.5,729.5 502.5,735.5 510.5,740.5 518.5,740.5 526.5,733.5 534.5,729.5 542.5,740.5 550.5,740.5 558.5,736.5 566.5,734.5 574.5,734.5 582.5,745.5 590.5,733.5 598.5,735.5 606.5,736.5 614.5,736.5 622.5,732.5 630.5,731.5 638.5,723.5 646.5,733.5 654.5,725.5 662.5,725.5 670.5,725.5 678.5,727.5 686.5,725.5 694.5,732.5 702.5,732.5 710.5,736.5 718.5,745.5 726.5,758.5 734.5,758.5 742.5,751.5 750.5,750.5 758.5,747.5 766.5,748.5 774.5,754.5 782.5,758.5 790.5,751.5 798.5,758.5 806.5,754.5 814.5,749.5 822.5,751.5 830.5,752.5 838.5,749.5 846.5,753.5 854.5,758.5 862.5,760.5 870.5,762.5 878.5,766.5 886.5,769.5 894.5,758.5 902.5,754.5 910.5,758.5 918.5,760.5 926.5,754.5 934.5,744.5 942.5,745.5 950.5,747.5 958.5,745.5 966.5,747.5 974.5,750.5 982.5,740.5 990.5,742.5 998.5,732.5 1006.5,728.5 1014.5,733.5 1022.5,732.5 1030.5,725.5 1038.5,728.5 1046.5,737.5 1054.5,738.5 1062.5,744.5 1070.5,748.5 1078.5,756.5 1086.5,752.5 1094.5,758.5 1102.5,749.5 1110.5,747.5 1118.5,745.5"/>
</g>
<text x="10" y="684" font-size="9.8" fill="#000" textLength="67.50" lengthAdjust="spacingAndGlyphs" stroke="#000" stroke-width="0.2">RSI(14) 43.1379</text>
<g fill="#000" font-size="9.5" font-family="Liberation Sans, sans-serif">
<rect x="1422" y="673" width="1" height="1"/>
<rect x="1422" y="801" width="1" height="1"/>
<text x="1425" y="682" font-size="9.8" fill="#000" textLength="15.35" lengthAdjust="spacingAndGlyphs" stroke="#000" stroke-width="0.2">100</text>
<text x="1425" y="715" font-size="9.8" fill="#000" textLength="10.23" lengthAdjust="spacingAndGlyphs" stroke="#000" stroke-width="0.2">70</text>
<text x="1425" y="766" font-size="9.8" fill="#000" textLength="10.23" lengthAdjust="spacingAndGlyphs" stroke="#000" stroke-width="0.2">30</text>
<text x="1425" y="798" font-size="9.8" fill="#000" textLength="5.12" lengthAdjust="spacingAndGlyphs" stroke="#000" stroke-width="0.2">0</text>
</g>
<g fill="#000" font-size="9.5" font-family="Liberation Sans, sans-serif">
<rect x="6" y="802" width="1" height="3"/>
<text x="4.7" y="814" font-size="9.8" fill="#000" textLength="45.5" lengthAdjust="spacingAndGlyphs" stroke="#000" stroke-width="0.2">8 Jan 2019</text>
<rect x="70" y="802" width="1" height="3"/>
<text x="69.0" y="814" font-size="9.8" fill="#000" textLength="50.0" lengthAdjust="spacingAndGlyphs" stroke="#000" stroke-width="0.2">17 Jan 2019</text>
<rect x="134" y="802" width="1" height="3"/>
<text x="133.1" y="814" font-size="9.8" fill="#000" textLength="50.0" lengthAdjust="spacingAndGlyphs" stroke="#000" stroke-width="0.2">27 Jan 2019</text>
<rect x="198" y="802" width="1" height="3"/>
<text x="196.7" y="814" font-size="9.8" fill="#000" textLength="48.0" lengthAdjust="spacingAndGlyphs" stroke="#000" stroke-width="0.2">5 Feb 2019</text>
<rect x="262" y="802" width="1" height="3"/>
<text x="261.2" y="814" font-size="9.8" fill="#000" textLength="51.8" lengthAdjust="spacingAndGlyphs" stroke="#000" stroke-width="0.2">14 Feb 2019</text>
<rect x="326" y="802" width="1" height="3"/>
<text x="325.0" y="814" font-size="9.8" fill="#000" textLength="51.8" lengthAdjust="spacingAndGlyphs" stroke="#000" stroke-width="0.2">24 Feb 2019</text>
<rect x="390" y="802" width="1" height="3"/>
<text x="388.8" y="814" font-size="9.8" fill="#000" textLength="47.0" lengthAdjust="spacingAndGlyphs" stroke="#000" stroke-width="0.2">5 Mar 2019</text>
<rect x="454" y="802" width="1" height="3"/>
<text x="453.0" y="814" font-size="9.8" fill="#000" textLength="52.3" lengthAdjust="spacingAndGlyphs" stroke="#000" stroke-width="0.2">14 Mar 2019</text>
<rect x="518" y="802" width="1" height="3"/>
<text x="516.6" y="814" font-size="9.8" fill="#000" textLength="52.3" lengthAdjust="spacingAndGlyphs" stroke="#000" stroke-width="0.2">24 Mar 2019</text>
<rect x="582" y="802" width="1" height="3"/>
<text x="580.8" y="814" font-size="9.8" fill="#000" textLength="46.2" lengthAdjust="spacingAndGlyphs" stroke="#000" stroke-width="0.2">2 Apr 2019</text>
<rect x="646" y="802" width="1" height="3"/>
<text x="645.1" y="814" font-size="9.8" fill="#000" textLength="50.5" lengthAdjust="spacingAndGlyphs" stroke="#000" stroke-width="0.2">11 Apr 2019</text>
<rect x="710" y="802" width="1" height="3"/>
<text x="708.9" y="814" font-size="9.8" fill="#000" textLength="51.4" lengthAdjust="spacingAndGlyphs" stroke="#000" stroke-width="0.2">22 Apr 2019</text>
<rect x="774" y="802" width="1" height="3"/>
<text x="773.4" y="814" font-size="9.8" fill="#000" textLength="49.6" lengthAdjust="spacingAndGlyphs" stroke="#000" stroke-width="0.2">1 May 2019</text>
<rect x="838" y="802" width="1" height="3"/>
<text x="837.2" y="814" font-size="9.8" fill="#000" textLength="54.9" lengthAdjust="spacingAndGlyphs" stroke="#000" stroke-width="0.2">10 May 2019</text>
<rect x="902" y="802" width="1" height="3"/>
<text x="901.0" y="814" font-size="9.8" fill="#000" textLength="54.9" lengthAdjust="spacingAndGlyphs" stroke="#000" stroke-width="0.2">20 May 2019</text>
<rect x="966" y="802" width="1" height="3"/>
<text x="964.8" y="814" font-size="9.8" fill="#000" textLength="54.9" lengthAdjust="spacingAndGlyphs" stroke="#000" stroke-width="0.2">29 May 2019</text>
<rect x="1030" y="802" width="1" height="3"/>
<text x="1028.6" y="814" font-size="9.8" fill="#000" textLength="45.7" lengthAdjust="spacingAndGlyphs" stroke="#000" stroke-width="0.2">7 Jun 2019</text>
<rect x="1094" y="802" width="1" height="3"/>
<text x="1093.0" y="814" font-size="9.8" fill="#000" textLength="50.0" lengthAdjust="spacingAndGlyphs" stroke="#000" stroke-width="0.2">17 Jun 2019</text>
</g>
<rect x="3" y="822" width="1464" height="1" fill="#e3e3e3"/>
<rect x="0" y="824" width="1467" height="19" fill="#f0f0f0"/>
<rect x="0" y="824" width="1467" height="1" fill="#000"/>
<rect x="0" y="825" width="1467" height="1" fill="#fafafa"/>
<rect x="1" y="825" width="2" height="18" fill="#6e6e6e"/>
<rect x="3" y="825" width="112" height="1" fill="#ffffff"/>
<rect x="3" y="825" width="1" height="18" fill="#ffffff"/>
<rect x="223" y="825" width="1244" height="1" fill="#ffffff"/>
<rect x="115" y="824" width="108" height="19" fill="#fff"/>
<rect x="115.5" y="824.5" width="107" height="18" fill="none" stroke="#000"/>
<g font-size="12" font-family="Liberation Sans, sans-serif">
<text x="18.5" y="838.8" fill="#6d6d6d" textLength="84" lengthAdjust="spacingAndGlyphs">EURUSD-,Daily</text>
<text x="125.3" y="838.8" fill="#000" textLength="86.3" lengthAdjust="spacingAndGlyphs">AUDUSD-,Daily</text>
<text x="235.7" y="838.8" fill="#6d6d6d" textLength="83" lengthAdjust="spacingAndGlyphs">USDCHF-,Daily</text>
<text x="342.7" y="838.8" fill="#6d6d6d" textLength="85" lengthAdjust="spacingAndGlyphs">USDCAD-,Daily</text>
<text x="451.7" y="838.8" fill="#6d6d6d" textLength="87.3" lengthAdjust="spacingAndGlyphs">USDCNH-,Daily</text>
<text x="562" y="838.8" fill="#6d6d6d" textLength="96.5" lengthAdjust="spacingAndGlyphs">EURCHF-,Weekly</text>
</g>
<rect x="331" y="827" width="1" height="14" fill="#8c8c8c"/>
<rect x="439" y="827" width="1" height="14" fill="#8c8c8c"/>
<rect x="551" y="827" width="1" height="14" fill="#8c8c8c"/>
<rect x="671" y="827" width="1" height="14" fill="#8c8c8c"/>
<polygon points="1440,830 1440,836 1437,833" fill="#8c8c8c" shape-rendering="auto"/>
<polygon points="1456,830 1456,836 1459,833" fill="#8c8c8c" shape-rendering="auto"/>
</svg></body></html>
